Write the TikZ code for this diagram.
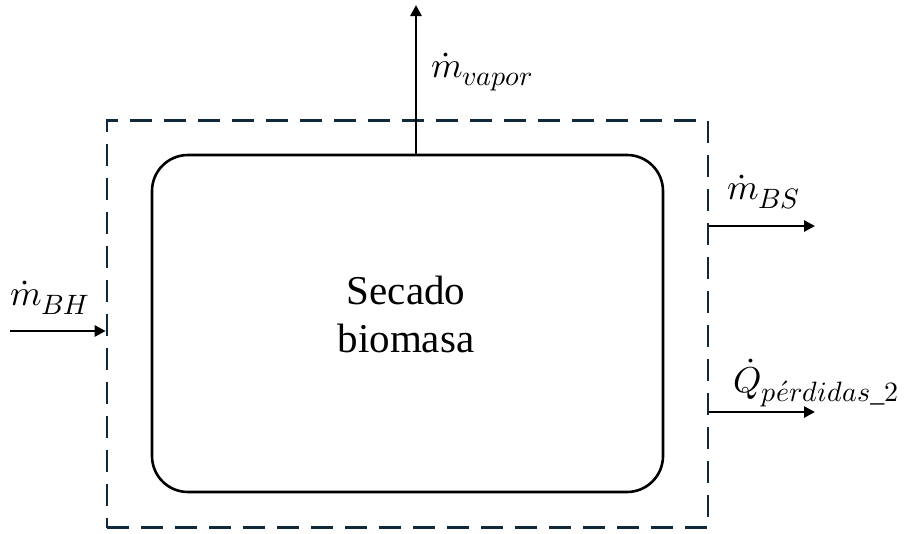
\documentclass[tikz,border=0pt]{standalone}
\usepackage{fontspec}
\usepackage{unicode-math}
\setmainfont{Liberation Serif}
\setmathfont{Latin Modern Math}
\DeclareMathSizes{36}{36}{28}{22}
\usetikzlibrary{arrows.meta}
\definecolor{dashcol}{HTML}{10293A}
\tikzset{
  flow/.style={line width=2.6pt,-{Triangle[length=11pt,width=11pt]}},
  lbl/.style={inner sep=0pt,font=\fontsize{36}{42}\selectfont}
}
\begin{document}
\begin{tikzpicture}[x=1pt,y=-1pt]
\useasboundingbox (0,0) rectangle (909,533);
\node[draw=dashcol,line width=2.6pt,dash pattern=on 22pt off 12pt,minimum width=601pt,minimum height=407pt,inner sep=0pt] (bound) at (407.5,324) {};
\node[draw,line width=2.6pt,rounded corners=36pt,minimum width=511pt,minimum height=337pt,inner sep=0pt] (box) at (407.5,323.5) {};
\node[align=center,font=\fontsize{41}{48}\selectfont,inner sep=0pt] (txt) at (406,314) {Secado\\biomasa};
\coordinate (topend) at (416,5);
\coordinate (boxtop) at (416,155);
\draw[flow] (boxtop) -- (topend);
\coordinate (inS) at (10,331);
\draw[flow] (inS) -- (bound.west |- inS);
\coordinate (bsE) at (815,226);
\draw[flow] (bound.east |- bsE) -- (bsE);
\coordinate (qE) at (815,412);
\draw[flow] (bound.east |- qE) -- (qE);
\node[lbl,anchor=west] (lvap) at (431,72) {$\dot{m}_{vapor}$};
\node[lbl,anchor=west] (lbh) at (10,298) {$\dot{m}_{BH}$};
\node[lbl,anchor=west] (lbs) at (727,192) {$\dot{m}_{BS}$};
\node[lbl,anchor=west] (lq) at (733,383) {$\dot{Q}_{p\acute{e}rdidas\_2}$};
\end{tikzpicture}
\end{document}
